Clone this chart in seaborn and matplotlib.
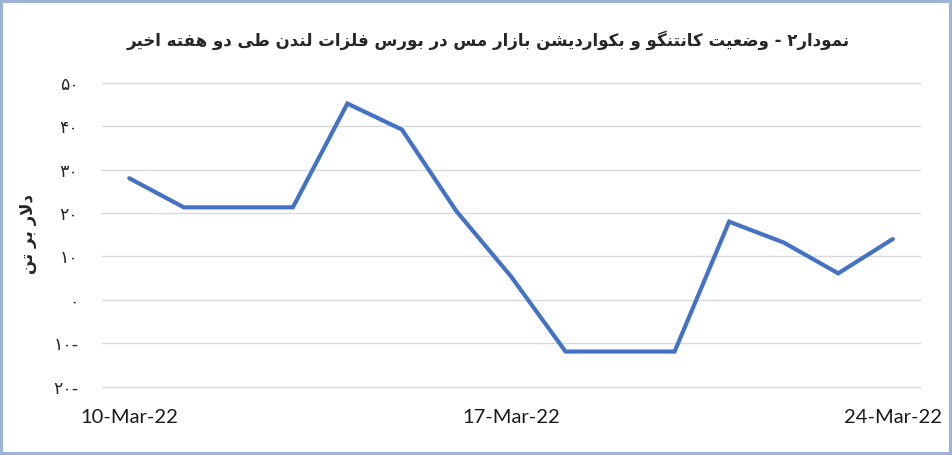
import pandas as pd
import matplotlib
matplotlib.use("Agg")
import matplotlib.pyplot as plt
import matplotlib.dates as mdates
from matplotlib.patches import Rectangle
import seaborn as sns

# Data (USD per tonne, daily)
dates = ["2022-03-10", "2022-03-11", "2022-03-12", "2022-03-13", "2022-03-14",
         "2022-03-15", "2022-03-16", "2022-03-17", "2022-03-18", "2022-03-19",
         "2022-03-20", "2022-03-21", "2022-03-22", "2022-03-23", "2022-03-24"]
spread = [28.0, 21.3, 21.3, 21.3, 45.2, 39.2, 20.4, 5.4, -11.9, -11.9,
          -11.9, 18.0, 13.2, 6.1, 14.0]
xtick_dates = ["2022-03-10", "2022-03-17", "2022-03-24"]
ytick_values = [-20, -10, 0, 10, 20, 30, 40, 50]

title_text = "نمودار۲ - وضعیت کانتنگو و بکواردیشن بازار مس در بورس فلزات لندن طی دو هفته اخیر"
ylabel_text = "دلار بر تن"

# matplotlib has no arabic shaping, so pick presentation forms by hand
# (isolated, final, initial, medial); None = letter does not join forward
FORMS = {
    "ا": ("\uFE8D", "\uFE8E", None, None),
    "ب": ("\uFE8F", "\uFE90", "\uFE91", "\uFE92"),
    "ت": ("\uFE95", "\uFE96", "\uFE97", "\uFE98"),
    "خ": ("\uFEA5", "\uFEA6", "\uFEA7", "\uFEA8"),
    "د": ("\uFEA9", "\uFEAA", None, None),
    "ر": ("\uFEAD", "\uFEAE", None, None),
    "ز": ("\uFEAF", "\uFEB0", None, None),
    "س": ("\uFEB1", "\uFEB2", "\uFEB3", "\uFEB4"),
    "ش": ("\uFEB5", "\uFEB6", "\uFEB7", "\uFEB8"),
    "ض": ("\uFEBD", "\uFEBE", "\uFEBF", "\uFEC0"),
    "ط": ("\uFEC1", "\uFEC2", "\uFEC3", "\uFEC4"),
    "ع": ("\uFEC9", "\uFECA", "\uFECB", "\uFECC"),
    "ف": ("\uFED1", "\uFED2", "\uFED3", "\uFED4"),
    "ل": ("\uFEDD", "\uFEDE", "\uFEDF", "\uFEE0"),
    "م": ("\uFEE1", "\uFEE2", "\uFEE3", "\uFEE4"),
    "ن": ("\uFEE5", "\uFEE6", "\uFEE7", "\uFEE8"),
    "ه": ("\uFEE9", "\uFEEA", "\uFEEB", "\uFEEC"),
    "و": ("\uFEED", "\uFEEE", None, None),
    "ی": ("\uFBFC", "\uFBFD", "\uFBFE", "\uFBFF"),
    "ک": ("\uFB8E", "\uFB8F", "\uFB90", "\uFB91"),
    "گ": ("\uFB92", "\uFB93", "\uFB94", "\uFB95"),
}
LAM_ALEF = ("\uFEFB", "\uFEFC")


def shape(text):
    # merge lam+alef first
    chars = []
    i = 0
    while i < len(text):
        if text[i] == "ل" and i + 1 < len(text) and text[i + 1] == "ا":
            chars.append("LA")
            i += 2
        else:
            chars.append(text[i])
            i += 1

    def joins_fwd(c):
        return c in FORMS and FORMS[c][2] is not None

    out = []
    for k, c in enumerate(chars):
        prev_join = k > 0 and joins_fwd(chars[k - 1])
        if c == "LA":
            out.append(LAM_ALEF[1] if prev_join else LAM_ALEF[0])
            continue
        if c not in FORMS:
            out.append(c)
            continue
        f = FORMS[c]
        nxt = chars[k + 1] if k + 1 < len(chars) else None
        next_join = f[2] is not None and nxt is not None and (nxt in FORMS or nxt == "LA")
        if prev_join and next_join:
            out.append(f[3])
        elif prev_join:
            out.append(f[1])
        elif next_join:
            out.append(f[2])
        else:
            out.append(f[0])
    return "".join(reversed(out))


def fa_num(v):
    digits = "".join("۰۱۲۳۴۵۶۷۸۹"[int(d)] for d in str(abs(v)))
    return digits + "-" if v < 0 else digits


df = pd.DataFrame({"date": pd.to_datetime(dates), "spread": spread})

sns.set_style("white")
plt.rcParams["font.family"] = ["DejaVu Sans"]

fig = plt.figure(figsize=(9.53, 4.55), dpi=100)
ax = fig.add_axes([102 / 953, 1 - 386.7 / 455, 818 / 953, 304 / 455])

ax.set_ylim(-20, 50)
ax.set_yticks(ytick_values)
ax.set_yticklabels([fa_num(v) for v in ytick_values], fontsize=12.5, color="#262626")
ax.grid(axis="y", color="#D9D9D9", linewidth=1.0)
ax.grid(axis="x", visible=False)
for gl in ax.get_ygridlines():
    gl.set_clip_on(False)

sns.lineplot(data=df, x="date", y="spread", ax=ax, color="#4472C4",
             linewidth=3.0, solid_joinstyle="miter", zorder=3)

half = pd.Timedelta(hours=12)
ax.set_xlim(df["date"].iloc[0] - half, df["date"].iloc[-1] + half)
ax.set_xticks(pd.to_datetime(xtick_dates))
ax.xaxis.set_major_formatter(mdates.DateFormatter("%d-%b-%y"))
for lbl in ax.get_xticklabels():
    lbl.set_fontfamily("Lato")
    lbl.set_fontsize(14.5)
    lbl.set_color("#1a1a1a")

ax.tick_params(axis="both", length=0)
ax.tick_params(axis="y", pad=17)
ax.tick_params(axis="x", pad=16)
for s in ax.spines.values():
    s.set_visible(False)
ax.set_xlabel("")
ax.set_ylabel("")

fig.text(28 / 953, 1 - 234 / 455, shape(ylabel_text), rotation=90,
         ha="center", va="center", fontsize=12, fontweight="bold")
fig.text(488 / 953, 1 - 40 / 455, shape(title_text), ha="center", va="center",
         fontsize=12, fontweight="bold")

fig.add_artist(Rectangle((0.001, 0.004), 0.996, 0.994, transform=fig.transFigure,
                         fill=False, edgecolor="#9DB3D9", linewidth=2.2))

fig.savefig("out.png", dpi=100)
